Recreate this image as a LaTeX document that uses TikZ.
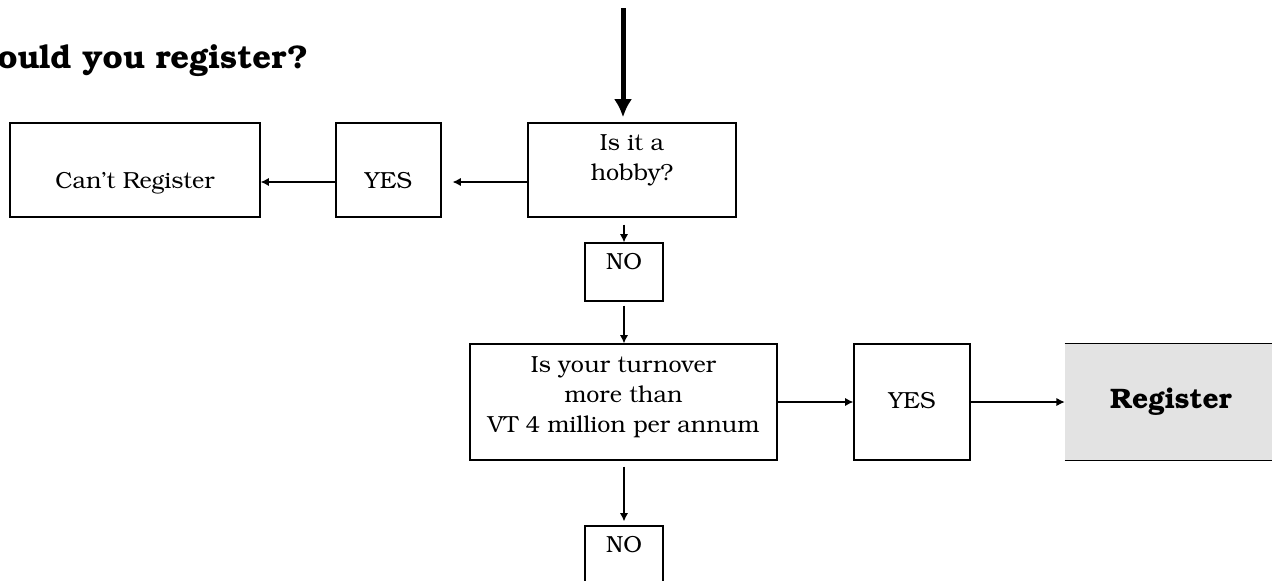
\documentclass[tikz,border=0pt]{standalone}
\usepackage[T1]{fontenc}
\usepackage{bookman}
\usepackage{tikz}
\usetikzlibrary{arrows.meta, calc}
\definecolor{regfill}{HTML}{E3E3E3}
\newcommand{\pxu}{0.55pt}
\tikzstyle{line} = [draw, line width=0.6pt, -{Latex[length=4.5pt,width=4.5pt]}]
\tikzstyle{bigline} = [draw, line width=2.75pt, -{Latex[length=10pt,width=10pt]}]
\tikzstyle{qbox} = [rectangle, draw, line width=0.8pt, align=center, inner sep=0pt, font=\fontsize{12.8}{16.5}\selectfont]
\tikzstyle{regbox} = [rectangle, fill=regfill, inner sep=0pt, font=\fontsize{15.5}{18}\selectfont\bfseries]

\begin{document}
\begin{tikzpicture}[x=\pxu, y=-\pxu]
	\useasboundingbox (0,0) rectangle (1272,580);
	
	\node [anchor=base west, inner sep=0pt, font=\fontsize{18}{21}\selectfont\bfseries] (title) at (-3,68) {ould you register?};
	
	% first question
	\node [qbox, minimum width=208*\pxu, minimum height=94*\pxu, text height=24.2pt, text depth=13.2pt] (hobby) at (632,170) {Is it a\\ hobby?};
	\node [qbox, minimum width=105*\pxu, minimum height=94*\pxu, text height=19.8pt, text depth=0pt] (yes1) at (388.5,170) {YES};
	\node [qbox, minimum width=250*\pxu, minimum height=94*\pxu, text height=19.8pt, text depth=0pt] (cant) at (135,170) {Can't Register};
	\node [qbox, minimum width=78*\pxu, minimum height=58*\pxu, text height=8.25pt, text depth=10.5pt] (no1) at (624,272) {NO};
	
	\coordinate (start) at (623,8);
	\coordinate (row1) at (0,182);
	\path [bigline, shorten >=2.75pt] (start) -- (start |- hobby.north);
	\path [line, shorten >=6pt] (hobby.west |- row1) -- (yes1.east |- row1);
	\path [line] (yes1.west |- row1) -- (cant.east |- row1);
	\path [line, shorten <=3.85pt] (hobby.south -| no1) -- (no1.north);
	
	% second question
	\node [qbox, minimum width=307*\pxu, minimum height=116*\pxu, text height=41.25pt, text depth=8.25pt] (turn) at (623.5,402) {Is your turnover\\ more than\\ VT 4 million per annum};
	\node [qbox, minimum width=116*\pxu, minimum height=116*\pxu, text height=8.25pt, text depth=1.65pt] (yes2) at (912,402) {YES};
	\node [regbox, minimum width=212*\pxu, minimum height=116*\pxu] (reg) at (1171,402) {Register};
	\draw [line width=0.8pt] (reg.north west) -- (reg.north east) (reg.south west) -- (reg.south east);
	\node [qbox, minimum width=78*\pxu, minimum height=58*\pxu, text height=8.25pt, text depth=10.5pt] (no2) at (624,555) {NO};
	
	\path [line, shorten <=2.2pt] (no1.south) -- (no1.south |- turn.north);
	\path [line] (turn.east) -- (yes2.west);
	\path [line] (yes2.east) -- (reg.west);
	\path [line, shorten <=3.3pt, shorten >=2.2pt] (turn.south -| no2) -- (no2.north);
\end{tikzpicture}
\end{document}
